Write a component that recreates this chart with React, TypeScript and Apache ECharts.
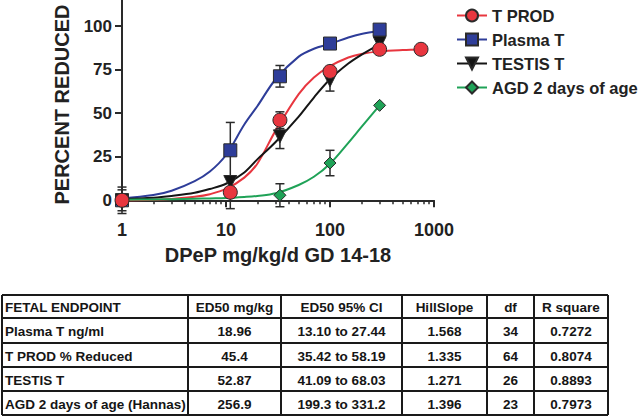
import React, { useEffect, useRef } from 'react';
import * as echarts from 'echarts';

// ---------- data ----------
const seriesNames = ['T PROD', 'Plasma T', 'TESTIS T', 'AGD 2 days of age'];

const tprodX = [1, 11, 33, 100, 300, 750];
const tprodY = [0, 4.6, 46, 74, 86.7, 86.7];
const tprodErr = [3, 9.4, 4.8, 2, 1.5, 1.5];

const plasmaX = [1, 11, 33, 100, 300];
const plasmaY = [0, 28.7, 71.2, 90, 98];
const plasmaErr = [7.6, 16, 6.2, 1.5, 1.5];

const testisX = [1, 11, 33, 100, 300];
const testisY = [0, 10.5, 36.7, 68.9, 90.3];
const testisErr = [6, 3.5, 7, 6.2, 2];

const agdX = [1, 33, 100, 300];
const agdY = [0, 2.9, 21.4, 54.5];
const agdErr = [2, 6.6, 7.3, 0];

// fitted curves
const curveX = [1, 2, 3, 5, 7, 10, 15, 20, 30, 50, 70, 100, 150, 200, 300];
const tprodCurveX = [1, 2, 3, 5, 7, 10, 15, 20, 30, 50, 70, 100, 150, 200, 300, 500, 750];
const tprodCurve = [0, 0.3, 0.8, 2, 3.5, 6.5, 13, 21, 40, 61, 70.5, 77, 82, 84, 85.5, 86.3, 86.6];
const plasmaCurve = [1, 3, 5.5, 11, 16.5, 26, 43.5, 54, 69.5, 82.5, 87, 89.8, 93.5, 95.5, 97.2];
const testisCurve = [0.8, 1.5, 2.5, 4.3, 6.5, 9.5, 16, 23.5, 33.5, 48, 59, 69.5, 78.5, 83.5, 89.5];
const agdCurve = [0.3, 0.5, 0.6, 0.9, 1.1, 1.3, 1.9, 2.5, 4, 8.8, 13.5, 21, 33, 42, 54.5];

const xTickValues = [1, 10, 100, 1000];
const xMinorValues = [2, 3, 4, 5, 6, 7, 8, 9, 20, 30, 40, 50, 60, 70, 80, 90, 200, 300, 400, 500, 600, 700, 800, 900];
const yTickValues = [0, 25, 50, 75, 100];

// table
const tableHeader = ['FETAL ENDPOINT', 'ED50 mg/kg', 'ED50 95% CI', 'HillSlope', 'df', 'R square'];
const endpoints = ['Plasma T ng/ml', 'T PROD % Reduced', 'TESTIS T', 'AGD 2 days of age (Hannas)'];
const ed50 = ['18.96', '45.4', '52.87', '256.9'];
const ed50CI = ['13.10 to 27.44', '35.42 to 58.19', '41.09 to 68.03', '199.3 to 331.2'];
const hillSlope = ['1.568', '1.335', '1.271', '1.396'];
const dfs = ['34', '64', '26', '23'];
const rSquare = ['0.7272', '0.8074', '0.8893', '0.7973'];

// ---------- styling ----------
const FONT = '"Liberation Sans", Arial, Helvetica, sans-serif';
const RED = '#e8363f';
const BLUE = '#2e3d99';
const BLACK = '#151515';
const GREEN = '#1fa257';
const AXIS = '#2a2a2a';
const TEXT = '#222222';

const colX = [2, 188, 281, 402, 487, 534, 608];
const rowY = [295, 318, 343, 367, 391, 415];

function zip(xs: number[], ys: number[]) {
  return xs.map((x, i) => [x, ys[i]]);
}
function errData(xs: number[], ys: number[], es: number[]) {
  return xs.map((x, i) => [x, ys[i] - es[i], ys[i] + es[i]]).filter((_, i) => es[i] > 0);
}

function errRender(params: any, api: any) {
  const x = api.value(0);
  const lo = api.value(1);
  const hi = api.value(2);
  const top = api.coord([x, hi]);
  const bot = api.coord([x, lo]);
  const w = 4.5;
  const st = { stroke: '#2a2a2a', lineWidth: 1.5 };
  return {
    type: 'group',
    children: [
      { type: 'line', shape: { x1: top[0], y1: top[1], x2: bot[0], y2: bot[1] }, style: st },
      { type: 'line', shape: { x1: top[0] - w, y1: top[1], x2: top[0] + w, y2: top[1] }, style: st },
      { type: 'line', shape: { x1: bot[0] - w, y1: bot[1], x2: bot[0] + w, y2: bot[1] }, style: st },
    ],
  };
}

function buildTable() {
  const els: any[] = [];
  const lineStyle = { stroke: '#1a1a1a', lineWidth: 2 };
  rowY.forEach((y) => {
    els.push({ type: 'line', shape: { x1: colX[0], y1: y, x2: colX[colX.length - 1], y2: y }, style: lineStyle });
  });
  colX.forEach((x) => {
    els.push({ type: 'line', shape: { x1: x, y1: rowY[0], x2: x, y2: rowY[rowY.length - 1] }, style: lineStyle });
  });
  const rows: string[][] = [tableHeader];
  endpoints.forEach((e, i) => rows.push([e, ed50[i], ed50CI[i], hillSlope[i], dfs[i], rSquare[i]]));
  rows.forEach((row, r) => {
    const cy = (rowY[r] + rowY[r + 1]) / 2 + 1;
    row.forEach((txt, c) => {
      const left = c === 0;
      els.push({
        type: 'text',
        x: left ? colX[0] + 3 : (colX[c] + colX[c + 1]) / 2,
        y: cy,
        style: {
          text: txt,
          fill: '#151515',
          font: `bold 13.5px ${FONT}`,
          align: left ? 'left' : 'center',
          verticalAlign: 'middle',
        },
      });
    });
  });
  return els;
}

export default function App() {
  const ref = useRef<HTMLDivElement>(null);
  useEffect(() => {
    if (!ref.current) return;
    const chart = echarts.init(ref.current, undefined, { renderer: 'svg' });

    const lineSeries = (name: string, xs: number[], ys: number[], color: string, symbol: string, size: number, rotate = 0) => ({
      type: 'line',
      name,
      data: zip(xs, ys),
      smooth: 0.35,
      showSymbol: false,
      symbol,
      symbolSize: size,
      symbolRotate: rotate,
      lineStyle: { color, width: 2 },
      itemStyle: { color, borderColor: '#2a2a2a', borderWidth: 1 },
      z: 2,
      silent: true,
    });
    const errSeries = (name: string, xs: number[], ys: number[], es: number[]) => ({
      type: 'custom',
      name,
      data: errData(xs, ys, es),
      encode: { x: 0, y: [1, 2] },
      renderItem: errRender,
      z: 3,
      silent: true,
    });
    const pointSeries = (name: string, xs: number[], ys: number[], color: string, symbol: string, size: number, z: number, rotate = 0) => ({
      type: 'scatter',
      name,
      data: zip(xs, ys),
      symbol,
      symbolSize: size,
      symbolRotate: rotate,
      itemStyle: { color, borderColor: '#2a2a2a', borderWidth: 1, opacity: 1 },
      z,
      silent: true,
    });

    const gridBox = { left: 122, top: 0, width: 312, height: 209, containLabel: false };

    chart.setOption({
      animation: false,
      textStyle: { fontFamily: FONT },
      grid: [gridBox, { ...gridBox }],
      legend: {
        data: seriesNames,
        orient: 'vertical',
        left: 451,
        top: 2,
        itemWidth: 30,
        itemHeight: 15,
        itemGap: 7,
        textStyle: { fontSize: 16.5, fontWeight: 'bold', color: TEXT, fontFamily: FONT },
        selectedMode: false,
      },
      xAxis: [
        {
          type: 'log',
          gridIndex: 0,
          logBase: 10,
          min: 1,
          max: 1000,
          name: 'DPeP mg/kg/d GD 14-18',
          nameLocation: 'middle',
          nameGap: 36,
          nameTextStyle: { fontSize: 20, fontWeight: 'bold', color: TEXT, fontFamily: FONT },
          axisLine: { lineStyle: { color: AXIS, width: 2 } },
          axisTick: { show: true, length: 7, customValues: xTickValues, lineStyle: { color: AXIS, width: 2 } },
          axisLabel: {
            customValues: xTickValues,
            formatter: (v: number) => String(Math.round(v)),
            margin: 12,
            fontSize: 18,
            fontWeight: 'bold',
            color: TEXT,
            fontFamily: FONT,
          },
          splitLine: { show: false },
          minorTick: { show: false },
        },
        {
          type: 'log',
          gridIndex: 1,
          logBase: 10,
          min: 1,
          max: 1000,
          position: 'bottom',
          axisLine: { show: false },
          axisTick: { show: true, length: 4, customValues: xMinorValues, lineStyle: { color: AXIS, width: 1.5 } },
          axisLabel: { show: false },
          splitLine: { show: false },
        },
      ],
      yAxis: [
        {
          type: 'value',
          gridIndex: 0,
          min: -5,
          max: 115,
          name: 'PERCENT REDUCED',
          nameLocation: 'middle',
          nameGap: 50,
          nameRotate: 90,
          nameTextStyle: { fontSize: 20, fontWeight: 'bold', color: TEXT, fontFamily: FONT },
          axisLine: { show: true, lineStyle: { color: AXIS, width: 2 } },
          axisTick: { show: true, length: 7, customValues: yTickValues, lineStyle: { color: AXIS, width: 2 } },
          axisLabel: { customValues: yTickValues, margin: 10, fontSize: 17, fontWeight: 'bold', color: TEXT, fontFamily: FONT },
          splitLine: { show: false },
        },
        {
          type: 'value',
          gridIndex: 1,
          min: -5,
          max: 115,
          show: false,
        },
      ],
      series: [
        lineSeries('T PROD', tprodCurveX, tprodCurve, RED, 'circle', 14),
        lineSeries('Plasma T', curveX, plasmaCurve, BLUE, 'rect', 13),
        lineSeries('TESTIS T', curveX, testisCurve, BLACK, 'triangle', 13, 180),
        lineSeries('AGD 2 days of age', curveX, agdCurve, GREEN, 'diamond', 12),
        errSeries('T PROD', tprodX, tprodY, tprodErr),
        errSeries('Plasma T', plasmaX, plasmaY, plasmaErr),
        errSeries('TESTIS T', testisX, testisY, testisErr),
        errSeries('AGD 2 days of age', agdX, agdY, agdErr),
        pointSeries('Plasma T', plasmaX, plasmaY, BLUE, 'rect', 13, 4),
        pointSeries('TESTIS T', testisX, testisY, BLACK, 'triangle', 13, 4, 180),
        pointSeries('AGD 2 days of age', agdX, agdY, GREEN, 'diamond', 12, 4),
        pointSeries('T PROD', tprodX, tprodY, RED, 'circle', 14, 5),
      ],
      graphic: buildTable(),
    });
    return () => chart.dispose();
  }, []);
  return <div ref={ref} style={{ position: 'absolute', left: 0, top: 0, width: 640, height: 416 }} />;
}
